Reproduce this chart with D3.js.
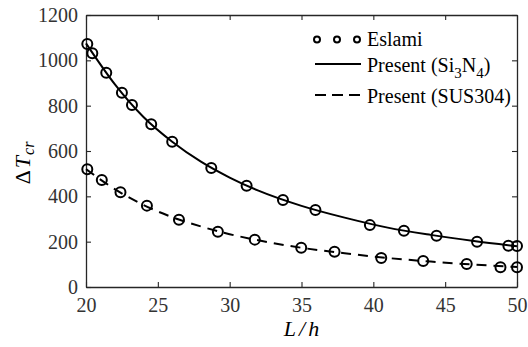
<!DOCTYPE html>
<html>
<head>
<meta charset="utf-8">
<script src="https://cdn.jsdelivr.net/npm/d3@7"></script>
</head>
<body style="margin:0">
<div id="chart"></div>
<script>
// Eslami reference points (L/h, dT_cr)
var eslamiSiX = [20.09, 20.44, 21.41, 22.5, 23.2, 24.54, 26.0, 28.72, 31.18, 33.71, 35.97, 39.76, 42.13, 44.4, 47.22, 49.4, 50.0];
var eslamiSiY = [1072, 1031, 945, 857, 803, 718, 641, 525, 447, 384, 340, 273, 248, 226, 200, 182, 181];
var eslamiSusX = [20.09, 21.1, 22.4, 24.24, 26.47, 29.18, 31.75, 34.98, 37.3, 40.55, 43.47, 46.5, 48.85, 50.0];
var eslamiSusY = [519, 472, 418, 359, 297, 244, 209, 173, 156, 128, 115, 101, 87, 87];

// Present results
var presentX = [20, 22, 24, 26, 28, 30, 32, 35, 38, 41, 44, 47, 50];
var presentSi = [1075, 895, 750, 641, 553, 483, 425, 358, 306, 262, 230, 203, 180];
var presentSus = [520, 432, 362, 308, 267, 233, 206, 173, 149, 128, 112, 99, 88];

var xTicks = [20, 25, 30, 35, 40, 45, 50];
var yTicks = [0, 200, 400, 600, 800, 1000, 1200];

var width = 528, height = 347;
var margin = { left: 86, top: 15, right: 11, bottom: 60 };
var innerW = width - margin.left - margin.right;
var innerH = height - margin.top - margin.bottom;
var serif = "Liberation Serif";

var x = d3.scaleLinear().domain([20, 50]).range([0, innerW]);
var y = d3.scaleLinear().domain([0, 1200]).range([innerH, 0]);

var svg = d3.select("#chart").append("svg")
  .attr("width", width)
  .attr("height", height)
  .attr("font-family", serif);

var g = svg.append("g")
  .attr("transform", "translate(" + margin.left + "," + margin.top + ")");

var axisColor = "#262626";

// axes with inward ticks, mirrored on top/right
var xAxis = g.append("g")
  .attr("transform", "translate(0," + innerH + ")")
  .call(d3.axisBottom(x).tickValues(xTicks).tickFormat(d3.format("d")).tickSizeInner(-5).tickSizeOuter(0).tickPadding(11));
var yAxis = g.append("g")
  .call(d3.axisLeft(y).tickValues(yTicks).tickFormat(d3.format("d")).tickSizeInner(-5).tickSizeOuter(0).tickPadding(8));
var xTop = g.append("g")
  .call(d3.axisTop(x).tickValues(xTicks).tickSizeInner(-5).tickSizeOuter(0).tickFormat(""));
var yRight = g.append("g")
  .attr("transform", "translate(" + innerW + ",0)")
  .call(d3.axisRight(y).tickValues(yTicks).tickSizeInner(-5).tickSizeOuter(0).tickFormat(""));

[xAxis, yAxis, xTop, yRight].forEach(function (a) {
  a.attr("font-family", serif).attr("font-size", 20);
  a.select(".domain").attr("stroke", axisColor).attr("stroke-width", 1.3);
  a.selectAll(".tick line").attr("stroke", axisColor).attr("stroke-width", 1.1);
  a.selectAll(".tick text").attr("fill", "#333");
});
xAxis.selectAll(".tick text").attr("dy", "0.71em");

// lines
var line = d3.line().curve(d3.curveMonotoneX);
var siPts = presentX.map(function (d, i) { return [x(d), y(presentSi[i])]; });
var susPts = presentX.map(function (d, i) { return [x(d), y(presentSus[i])]; });

g.append("path")
  .attr("d", line(siPts))
  .attr("fill", "none")
  .attr("stroke", "#000")
  .attr("stroke-width", 2);

g.append("path")
  .attr("d", line(susPts))
  .attr("fill", "none")
  .attr("stroke", "#000")
  .attr("stroke-width", 2)
  .attr("stroke-dasharray", "10,7");

// Eslami circles
function drawCircles(xs, ys) {
  g.selectAll(null)
    .data(xs)
    .enter()
    .append("circle")
    .attr("cx", function (d) { return x(d); })
    .attr("cy", function (d, i) { return y(ys[i]); })
    .attr("r", 5)
    .attr("fill", "none")
    .attr("stroke", "#000")
    .attr("stroke-width", 2);
}
drawCircles(eslamiSiX, eslamiSiY);
drawCircles(eslamiSusX, eslamiSusY);

// axis labels
var xl = svg.append("text")
  .attr("x", margin.left + innerW / 2)
  .attr("y", 336)
  .attr("text-anchor", "middle")
  .attr("font-size", 22)
  .attr("font-style", "italic");
xl.append("tspan").text("L");
xl.append("tspan").attr("dx", 3).text("/");
xl.append("tspan").attr("dx", 3).text("h");

var yl = svg.append("text")
  .attr("transform", "translate(30,163) rotate(-90)")
  .attr("text-anchor", "middle")
  .attr("font-size", 22);
yl.append("tspan").text("\u0394");
yl.append("tspan").attr("dx", 2).attr("font-style", "italic").text("T");
yl.append("tspan").attr("dx", 1).attr("font-style", "italic").attr("font-size", 16).attr("dy", 4).text("cr");

// legend
var leg = svg.append("g").attr("font-size", 20);
[317, 337, 357].forEach(function (cx) {
  leg.append("circle").attr("cx", cx).attr("cy", 39.5).attr("r", 3)
    .attr("fill", "none").attr("stroke", "#000").attr("stroke-width", 2);
});
leg.append("line").attr("x1", 315).attr("x2", 361).attr("y1", 64).attr("y2", 64)
  .attr("stroke", "#000").attr("stroke-width", 2);
leg.append("line").attr("x1", 315).attr("x2", 361).attr("y1", 95).attr("y2", 95)
  .attr("stroke", "#000").attr("stroke-width", 2).attr("stroke-dasharray", "11,6");

leg.append("text").attr("x", 367).attr("y", 46).text("Eslami");
var t2 = leg.append("text").attr("x", 367).attr("y", 72);
t2.append("tspan").text("Present (Si");
t2.append("tspan").attr("dy", 6).attr("font-size", 15).text("3");
t2.append("tspan").attr("dy", -6).text("N");
t2.append("tspan").attr("dy", 6).attr("font-size", 15).text("4");
t2.append("tspan").attr("dy", -6).text(")");
leg.append("text").attr("x", 367).attr("y", 103).text("Present (SUS304)");
</script>
</body>
</html>
